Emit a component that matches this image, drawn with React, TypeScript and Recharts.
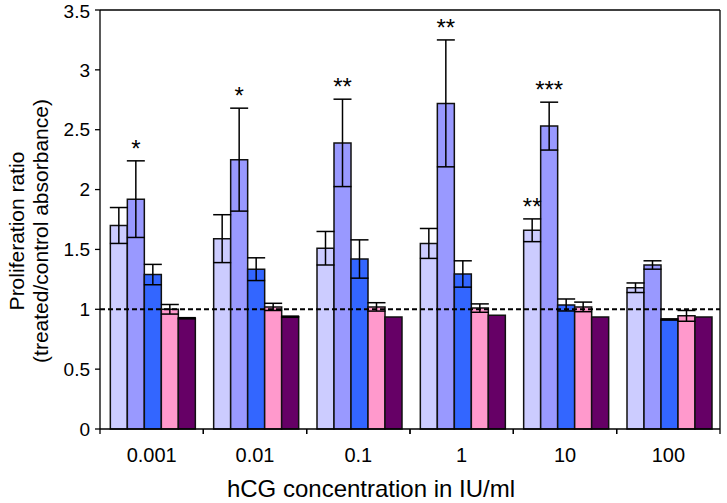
import React from 'react';
import {
  BarChart,
  Bar,
  XAxis,
  YAxis,
  ErrorBar,
  ReferenceLine,
  LabelList,
} from 'recharts';

const categories = ['0.001', '0.01', '0.1', '1', '10', '100'];

// five series, mean ratio and +/- error
const s1 = [1.7, 1.59, 1.51, 1.55, 1.66, 1.18];
const e1 = [0.15, 0.2, 0.14, 0.125, 0.095, 0.04];
const s2 = [1.92, 2.25, 2.39, 2.72, 2.53, 1.37];
const e2 = [0.32, 0.43, 0.365, 0.53, 0.2, 0.035];
const s3 = [1.29, 1.335, 1.42, 1.295, 1.036, 0.915];
const e3 = [0.085, 0.095, 0.16, 0.11, 0.05, 0.005];
const s4 = [1.0, 1.02, 1.02, 1.01, 1.02, 0.945];
const e4 = [0.04, 0.03, 0.035, 0.035, 0.04, 0.045];
const s5 = [0.925, 0.938, 0.936, 0.95, 0.936, 0.936];
const e5 = [0.005, 0.005, 0, 0, 0, 0];

// significance marks
const sig1 = ['', '', '', '', '**', ''];
const sig2 = ['*', '*', '**', '**', '***', ''];

const yTicks = [0, 0.5, 1, 1.5, 2, 2.5, 3, 3.5];

const data = categories.map((c, i) => ({
  conc: c,
  s1: s1[i], e1: e1[i],
  s2: s2[i], e2: e2[i],
  s3: s3[i], e3: e3[i],
  s4: s4[i], e4: e4[i],
  s5: s5[i], e5: e5[i],
}));

const font = 'Arial, "Liberation Sans", sans-serif';
const axisStroke = { stroke: '#000', strokeWidth: 1.3 };
const X_MARGIN = 19;

// label plus small tick marks at the edges of each category band
const ConcTick = (props: any) => {
  const { x, y, payload } = props;
  const half = payload?.offset ?? 0;
  const axisY = y - X_MARGIN;
  return (
    <g>
      <line x1={x - half} x2={x - half} y1={axisY} y2={axisY + 5} stroke="#000" strokeWidth={1.3} />
      <line x1={x + half} x2={x + half} y1={axisY} y2={axisY + 5} stroke="#000" strokeWidth={1.3} />
      <text x={x} y={y} dy="0.71em" textAnchor="middle" fontSize={20} fontFamily={font} fill="#000">
        {payload.value}
      </text>
    </g>
  );
};

const sigLabel = (vals: number[], errs: number[], marks: string[]) => (props: any) => {
  const { x, y, width, height, index } = props;
  const mark = marks[index];
  if (!mark) return null;
  const capY = y - (errs[index] * height) / vals[index];
  return (
    <text x={x + width / 2} y={capY - 4} textAnchor="middle" fontSize={24} fontFamily={font} fill="#000">
      {mark}
    </text>
  );
};

export default function App() {
  return (
    <div style={{ position: 'absolute', left: 0, top: 0, background: '#fff' }}>
      <BarChart
        width={727}
        height={503}
        data={data}
        margin={{ top: 9, right: 6, left: 0, bottom: 0 }}
        barCategoryGap="10%"
        barGap={0}
      >
        <XAxis
          dataKey="conc"
          height={74}
          tickLine={false}
          axisLine={axisStroke}
          tickSize={0}
          tickMargin={X_MARGIN}
          tick={<ConcTick />}
          label={{
            content: () => (
              <text x={371} y={497} textAnchor="middle" fontSize={24} fontFamily={font} fill="#000">
                hCG concentration in IU/ml
              </text>
            ),
          }}
        />
        <XAxis
          xAxisId="top"
          dataKey="conc"
          orientation="top"
          height={1}
          tick={false}
          tickLine={false}
          axisLine={axisStroke}
        />
        <YAxis
          domain={[0, 3.5]}
          ticks={yTicks}
          width={100}
          tickSize={5}
          tickMargin={5}
          axisLine={axisStroke}
          tickLine={axisStroke}
          tick={{ fill: '#000', fontSize: 19, fontFamily: font }}
          label={{
            content: () => (
              <text
                x={24}
                y={231}
                transform="rotate(-90, 24, 231)"
                textAnchor="middle"
                fontSize={21}
                fontFamily={font}
                fill="#000"
              >
                <tspan x={24} dy={0}>Proliferation ratio</tspan>
                <tspan x={24} dy={24}>(treated/control absorbance)</tspan>
              </text>
            ),
          }}
        />
        <YAxis
          yAxisId="right"
          orientation="right"
          domain={[0, 3.5]}
          width={1}
          tick={false}
          tickLine={false}
          axisLine={axisStroke}
        />
        <Bar dataKey="s1" fill="#ccccff" stroke="#111" strokeWidth={1.5} isAnimationActive={false}>
          <ErrorBar dataKey="e1" width={9} stroke="#000" strokeWidth={1.5} direction="y" />
          <LabelList dataKey="s1" content={sigLabel(s1, e1, sig1)} />
        </Bar>
        <Bar dataKey="s2" fill="#9999ff" stroke="#111" strokeWidth={1.5} isAnimationActive={false}>
          <ErrorBar dataKey="e2" width={9} stroke="#000" strokeWidth={1.5} direction="y" />
          <LabelList dataKey="s2" content={sigLabel(s2, e2, sig2)} />
        </Bar>
        <Bar dataKey="s3" fill="#3366ff" stroke="#111" strokeWidth={1.5} isAnimationActive={false}>
          <ErrorBar dataKey="e3" width={9} stroke="#000" strokeWidth={1.5} direction="y" />
        </Bar>
        <Bar dataKey="s4" fill="#ff99cc" stroke="#111" strokeWidth={1.5} isAnimationActive={false}>
          <ErrorBar dataKey="e4" width={9} stroke="#000" strokeWidth={1.5} direction="y" />
        </Bar>
        <Bar dataKey="s5" fill="#660066" stroke="#111" strokeWidth={1.5} isAnimationActive={false}>
          <ErrorBar dataKey="e5" width={9} stroke="#000" strokeWidth={1.5} direction="y" />
        </Bar>
        <ReferenceLine y={1} stroke="#000" strokeWidth={2} strokeDasharray="5 3" />
      </BarChart>
    </div>
  );
}
